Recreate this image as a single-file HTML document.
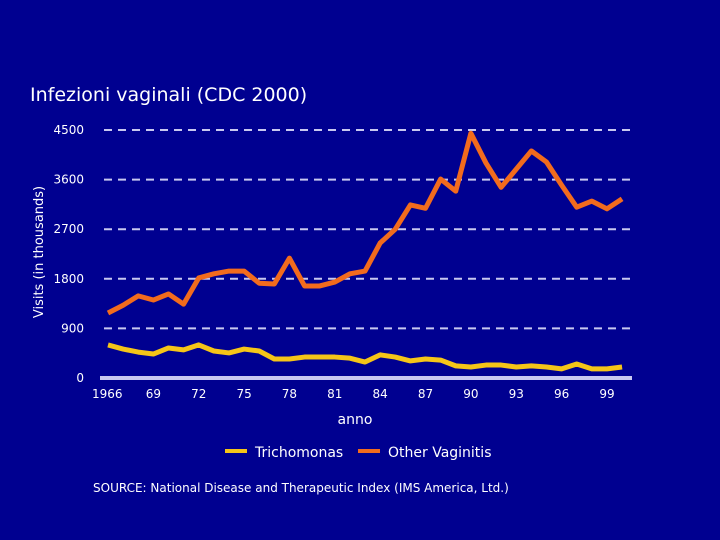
<!DOCTYPE html>
<html><head><meta charset="utf-8"><style>
body{margin:0;background:#000090;}
svg{display:block;font-family:"DejaVu Sans","Liberation Sans",sans-serif;}
</style></head><body>
<svg width="720" height="540">
<rect width="720" height="540" fill="#000090"/>
<text x="30" y="101" fill="#fff" font-size="19">Infezioni vaginali (CDC 2000)</text>
<text transform="translate(43,252) rotate(-90)" text-anchor="middle" fill="#fff" font-size="13">Visits (in thousands)</text>
<text x="355" y="424" text-anchor="middle" fill="#fff" font-size="14">anno</text>
<g id="grid"></g><g id="ticks"></g><g id="series"></g>
<line x1="100" y1="378" x2="632" y2="378" stroke="#c8c8f0" stroke-width="4"/>
<g>
<g><line x1="225" y1="451" x2="247" y2="451" stroke="#f5c518" stroke-width="4"/><text x="255" y="457" fill="#fff" font-size="14">Trichomonas</text></g>
<g><line x1="358" y1="451" x2="380" y2="451" stroke="#f26b1d" stroke-width="4"/><text x="388" y="457" fill="#fff" font-size="14">Other Vaginitis</text></g>
</g>
<text x="93" y="492" fill="#fff" font-size="12">SOURCE: National Disease and Therapeutic Index (IMS America, Ltd.)</text>
</svg>
<script>
const years=[1966,1967,1968,1969,1970,1971,1972,1973,1974,1975,1976,1977,1978,1979,1980,1981,1982,1983,1984,1985,1986,1987,1988,1989,1990,1991,1992,1993,1994,1995,1996,1997,1998,1999,2000];
const otherVaginitis=[1180,1320,1490,1415,1525,1340,1815,1890,1940,1940,1720,1705,2175,1670,1670,1740,1890,1940,2450,2700,3140,3080,3610,3390,4440,3900,3460,3790,4120,3920,3500,3100,3210,3070,3250];
const trichomonas=[600,525,470,435,545,510,600,490,455,525,490,345,345,380,380,380,360,290,420,380,310,345,325,220,200,235,235,200,220,200,165,255,165,165,200];
const yTicks=[0,900,1800,2700,3600,4500];
const xTickYears=[1966,1969,1972,1975,1978,1981,1984,1987,1990,1993,1996,1999];
const xTickLabels=["1966","69","72","75","78","81","84","87","90","93","96","99"];
const NS="http://www.w3.org/2000/svg";
const xs=y=>108+(y-1966)*15.12;
const ys=v=>378-v*(248/4500);
function mk(tag,attrs,parent){const e=document.createElementNS(NS,tag);for(const k in attrs)e.setAttribute(k,attrs[k]);parent.appendChild(e);return e;}
const grid=document.getElementById('grid'),ticks=document.getElementById('ticks'),series=document.getElementById('series');
yTicks.forEach(v=>{
 if(v>0){const l=mk('line',{x1:104,x2:632,y1:ys(v),y2:ys(v),stroke:'#c8c8f0','stroke-width':2,'stroke-dasharray':'8 6'},grid);
 
 }
 const t=mk('text',{x:84,y:ys(v)+4,'text-anchor':'end',fill:'#fff','font-size':12},ticks);t.textContent=v;
 
 
});
xTickYears.forEach((y,i)=>{
 const t=mk('text',{x:xs(y),y:398,'text-anchor':i==0?'start':'middle',fill:'#fff','font-size':12},ticks);t.textContent=xTickLabels[i];
 if(i==0)t.setAttribute('x',xs(y)-16);
 
 
});
function line(vals,color,name){
 const p=mk('polyline',{points:vals.map((v,i)=>xs(years[i])+','+ys(v)).join(' '),fill:'none',stroke:color,'stroke-width':5,'stroke-linejoin':'round'},series);
 
 
}
line(trichomonas,'#f5c518','trichomonas-line');
line(otherVaginitis,'#f26b1d','other-vaginitis-line');
</script>
</body></html>
